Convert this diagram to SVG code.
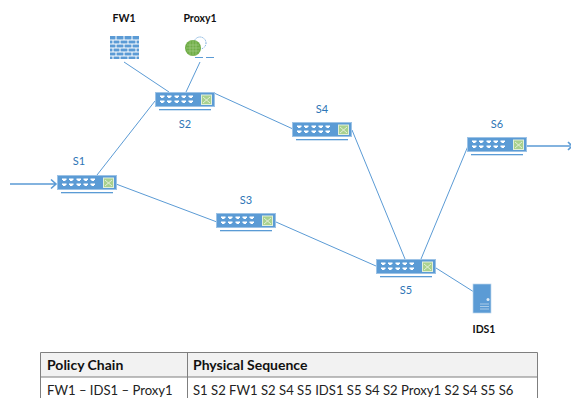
<svg xmlns="http://www.w3.org/2000/svg" width="571" height="398" viewBox="0 0 571 398">
<style>
text{font-family:Lato,Carlito,"Open Sans",sans-serif}
.sl{font-size:11px;fill:#2e75b6;text-anchor:middle}
.nl{font-size:10.500px;fill:#111;font-weight:700;text-anchor:middle}
.c{fill:none;stroke:#5b9bd5;stroke-width:1}
.a{fill:none;stroke:#5b9bd5;stroke-width:1.6}
.th{font-size:14px;font-weight:700;fill:#111}
.td{font-size:13.100px;fill:#222}
.tb{fill:none;stroke:#7f7f7f;stroke-width:1}
</style>
<defs>
<g id="sw">
<rect x="0" y="0" width="60" height="15" fill="#5b9bd5"/>
<rect x="0.500" y="0.500" width="59" height="14" fill="none" stroke="#9dc3e6"/>
<path fill="#fff" d="M5 3.500h4.500v1.500h-1v1h-2.500v-1h-1zM12 3.500h4.500v1.500h-1v1h-2.500v-1h-1zM19.500 3.500h4.500v1.500h-1v1h-2.500v-1h-1zM26.500 3.500h4.500v1.500h-1v1h-2.500v-1h-1zM33.500 3.500h4.500v1.500h-1v1h-2.500v-1h-1zM5 8.500h4.500v1.500h-1v1h-2.500v-1h-1zM12 8.500h4.500v1.500h-1v1h-2.500v-1h-1zM19.500 8.500h4.500v1.500h-1v1h-2.500v-1h-1zM26.500 8.500h4.500v1.500h-1v1h-2.500v-1h-1zM33.500 8.500h4.500v1.500h-1v1h-2.500v-1h-1z"/>
<rect x="46.500" y="3" width="10" height="9.500" fill="#a9d18e" stroke="#e2f0d9"/>
<path d="M48 5l7 6M55 5l-7 6" stroke="#e2f0d9" stroke-width="1" fill="none"/>
<rect x="4" y="17" width="52" height="1.300" fill="#5b9bd5"/>
</g>
</defs>
<g id="connectors">
<path class="c" d="M124 62L169 92M200 62L186 92M155 101L97 175M214 93L293 129M352 130L405 259M116 184L217 222M276 222L376 266M421 259L468 146M436 268L474 292"/>
<path class="a" d="M10 184H55M51 179.500L56 184L51 188.500M527 146H570"/>
<path class="a" d="M568 142L572 146L568 150"/>
</g>
<g id="S1"><use href="#sw" x="57" y="175"/><text class="sl" x="79" y="165">S1</text></g>
<g id="S2"><use href="#sw" x="155" y="92"/><text class="sl" x="185" y="128">S2</text></g>
<g id="S3"><use href="#sw" x="216" y="213"/><text class="sl" x="246" y="204">S3</text></g>
<g id="S4"><use href="#sw" x="292" y="122"/><text class="sl" x="322" y="113">S4</text></g>
<g id="S5"><use href="#sw" x="376" y="259"/><text class="sl" x="406" y="294">S5</text></g>
<g id="S6"><use href="#sw" x="467" y="137"/><text class="sl" x="497" y="128">S6</text></g>
<g id="FW1">
<text class="nl" x="124" y="22">FW1</text>
<rect x="110" y="36" width="29" height="23" fill="#5b9bd5"/>
<path d="M110 40h29M110 44h29M110 48h29M110 52h29M110 56h29M116 36v4M124 36v4M132 36v4M113 40v4M120 40v4M128 40v4M136 40v4M116 44v4M124 44v4M132 44v4M113 48v4M120 48v4M128 48v4M136 48v4M116 52v4M124 52v4M132 52v4M113 56v3M120 56v3M128 56v3M136 56v3" stroke="#fff" stroke-width="1" fill="none"/>
</g>
<g id="Proxy1">
<text class="nl" x="200" y="22">Proxy1</text>
<circle cx="200" cy="43" r="6" fill="none" stroke="#5b9bd5" stroke-width="1" stroke-dasharray="1 1"/>
<circle cx="193" cy="48" r="8" fill="#70ad47"/>
<path d="M187 45h12M186 48h14M187 51h12M190 41v14M193 40v16M196 41v14" stroke="#a9d18e" stroke-width="0.600" fill="none"/>
<path d="M195 57.500h8M206 57.500h8" stroke="#5b9bd5" stroke-width="1" fill="none"/>
</g>
<g id="IDS1">
<rect x="473" y="284" width="18" height="29" fill="#5b9bd5" stroke="#bdd7ee" stroke-width="0.700"/>
<circle cx="488" cy="299.500" r="1.500" fill="#deebf7"/>
<path d="M480 304h9M480 306.500h9M480 309h9" stroke="#bdd7ee" stroke-width="0.800" fill="none"/>
<text class="nl" x="484" y="333">IDS1</text>
</g>
<g id="table">
<rect x="40.500" y="352.500" width="497" height="24.500" fill="#f2f2f2"/>
<path class="tb" d="M40.500 398V352.500H537.500V398M40.500 377H537.500M187.500 352.500V398"/>
<text class="th" x="47" y="370">Policy Chain</text>
<text class="th" x="193" y="370">Physical Sequence</text>
<text class="td" x="47" y="395">FW1 – IDS1 – Proxy1</text>
<text class="td" x="193" y="395">S1 S2 FW1 S2 S4 S5 IDS1 S5 S4 S2 Proxy1 S2 S4 S5 S6</text>
</g>
</svg>
